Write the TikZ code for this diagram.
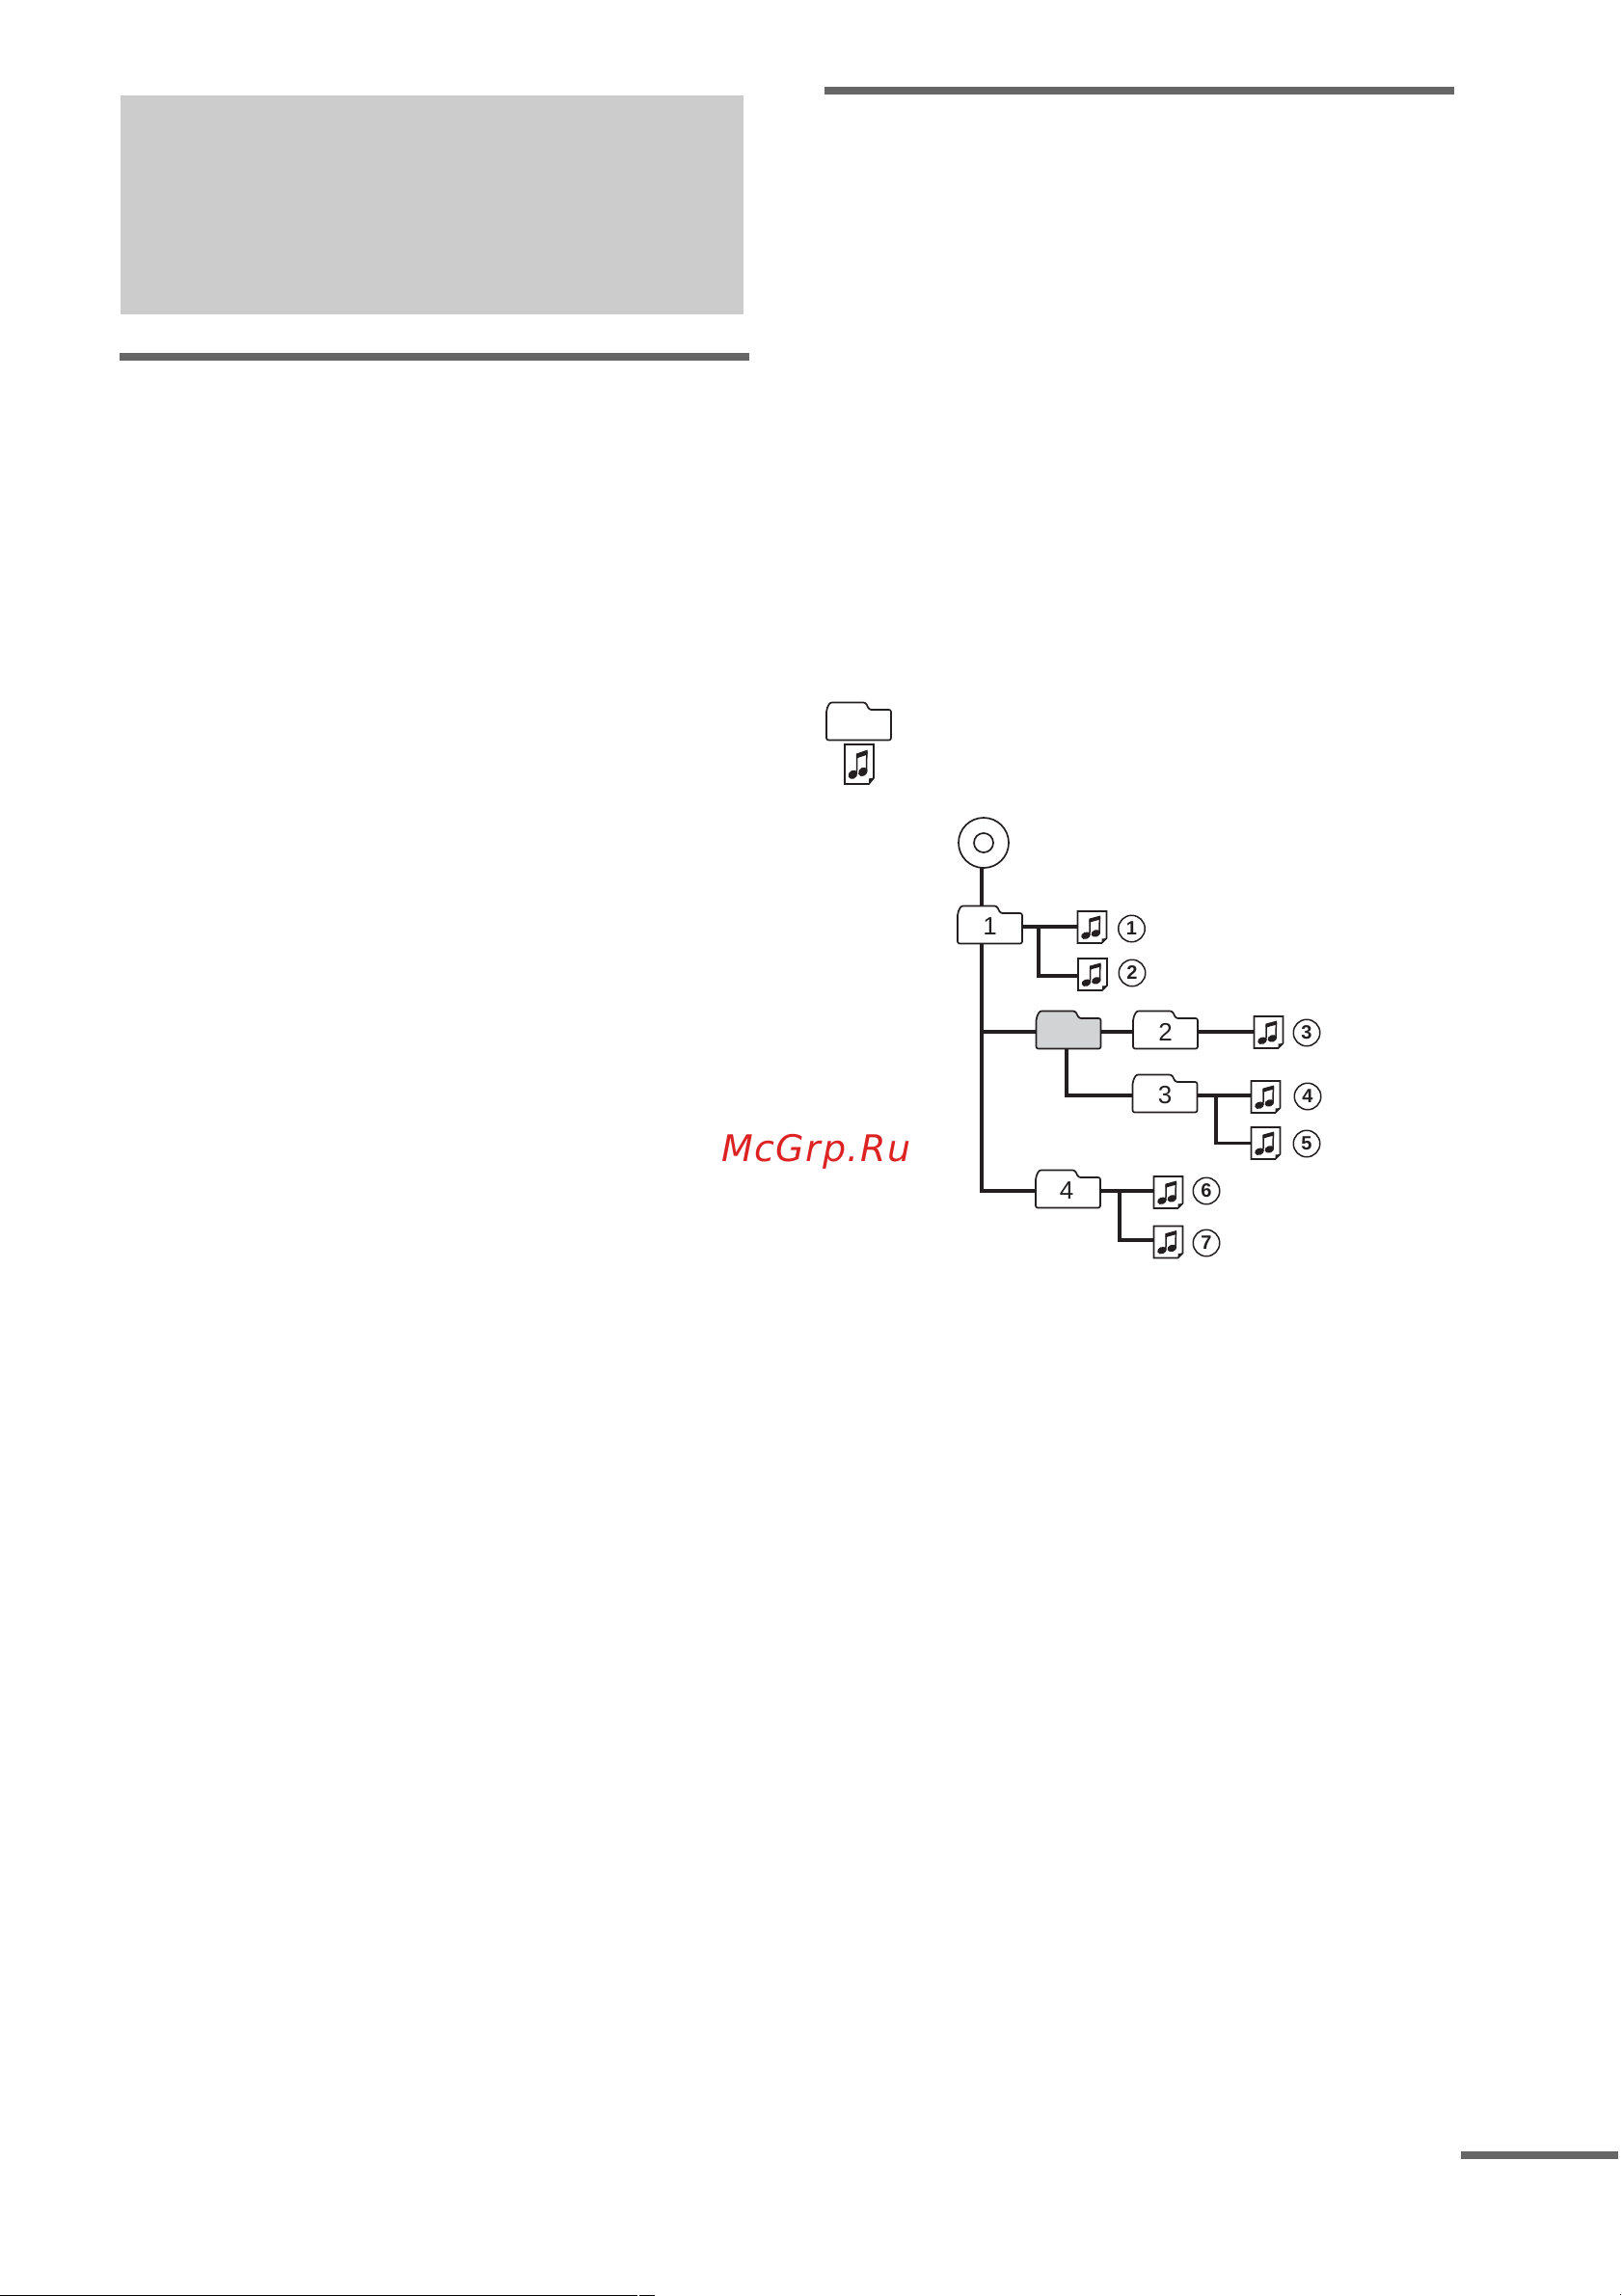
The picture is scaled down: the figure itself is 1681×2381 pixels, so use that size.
\documentclass[tikz,border=0pt]{standalone}
\usepackage{fontspec}
\setmainfont{Liberation Sans}
\newfontfamily\stampfont[LetterSpace=4]{DejaVu Sans}
\usetikzlibrary{backgrounds}
\definecolor{ink}{HTML}{231F20}
\definecolor{barfill}{HTML}{666666}
\definecolor{panelfill}{HTML}{CCCCCC}
\definecolor{foldergray}{HTML}{D1D3D4}
\definecolor{stampred}{HTML}{DD2222}
\tikzset{
    link/.style={ink,line width=3.2pt},
    folderline/.style={ink,line width=1.7pt,rounded corners=2.2pt},
    folderlabel/.style={inner sep=0pt,minimum width=67pt,minimum height=32pt,text=ink,font=\fontsize{26}{26}\selectfont},
    fileline/.style={ink,line width=1.7pt,fill=white},
    filebox/.style={inner sep=0pt,minimum width=30pt,minimum height=33pt},
    tracklabel/.style={circle,draw=ink,line width=1.5pt,inner sep=0pt,minimum size=27.5pt,text=ink,font=\fontsize{20}{20}\selectfont\bfseries},
}
% name, x, y, fill, label
\newcommand{\folderbox}[5]{
    \draw[folderline,fill=#4,shift={(#2,#3)}] (-33.5,17.5) -- (-33.5,-14) -- (-30,-21.5)
        -- (7,-21.5) -- (11,-14) -- (33.5,-14) -- (33.5,17.5) -- cycle;
    \node[folderlabel] (#1) at (#2,#3) {#5};
}
% name, x, y, stretch
\newcommand{\tunefile}[4]{
    \draw[fileline,shift={(#2,#3)},yscale=#4] (-15,-16.5) -- (15,-16.5) -- (15,11.5) -- (10,16.5) -- (-15,16.5) -- cycle;
    \fill[ink,shift={(#2,#3)},yscale=#4] (15,11.5) -- (10,16.5) -- (10,12) -- cycle;
    \draw[ink,line width=1.5pt,shift={(#2,#3)},yscale=#4] (-2.6,8.5) -- (-2.2,-7.5) (7.6,6.5) -- (7.8,-10.5);
    \fill[ink,shift={(#2,#3)},yscale=#4] (-3.2,-8.8) -- (8.5,-12) -- (8.5,-8) -- (-3.2,-4.8) -- cycle;
    \fill[ink,shift={(#2,#3)},yscale=#4] (-6.6,8.7) ellipse [x radius=4.9,y radius=3.6,rotate=20];
    \fill[ink,shift={(#2,#3)},yscale=#4] (3.8,6.4) ellipse [x radius=4.9,y radius=3.6,rotate=20];
    \node[filebox] (#1) at (#2,#3) {};
}

\begin{document}
\begin{tikzpicture}[x=1pt,y=-1pt]
    \useasboundingbox (0,0) rectangle (1681,2381);
    % Draw page bars
    \fill[panelfill] (125,99) rectangle (771,326);
    \fill[barfill] (124,366) rectangle (776.5,374);
    \fill[barfill] (855,90) rectangle (1507.5,98);
    \fill[barfill] (1515,2231) rectangle (1678,2239);
    \fill[black] (0,2380) rectangle (661,2381);
    \fill[black] (663,2380) rectangle (679,2381);
    \fill[black] (1679.5,2378.5) rectangle (1681,2380);
    % Legend symbols
    \folderbox{legfolder}{890.5}{750}{white}{}
    \tunefile{legfile}{891}{792.5}{1.24}
    % Disc
    \node[circle,draw=ink,fill=white,line width=1.7pt,minimum size=52pt,inner sep=0pt] (disc) at (1020,874) {};
    \node[circle,draw=ink,fill=white,line width=1.7pt,minimum size=20pt,inner sep=0pt] (hole) at (disc) {};
    % Folders
    \folderbox{f1}{1026.5}{961}{white}{1}
    \folderbox{f0}{1108}{1070}{foldergray}{}
    \folderbox{f2}{1208.5}{1070}{white}{2}
    \folderbox{f3}{1208}{1136}{white}{3}
    \folderbox{f4}{1107.5}{1235}{white}{\hspace*{-3pt}4}
    % Files
    \tunefile{t1}{1132.5}{961.5}{1}
    \tunefile{t2}{1133}{1010.5}{1}
    \tunefile{t3}{1315.5}{1070.5}{1}
    \tunefile{t4}{1312.5}{1137.5}{1}
    \tunefile{t5}{1312.5}{1185.5}{1}
    \tunefile{t6}{1211.5}{1236.5}{1}
    \tunefile{t7}{1211.5}{1288}{1}
    % Track numbers
    \node[tracklabel] (n1) at (1173.5,963) {1};
    \node[tracklabel] (n2) at (1174,1009) {2};
    \node[tracklabel] (n3) at (1355,1071) {3};
    \node[tracklabel] (n4) at (1356,1137) {4};
    \node[tracklabel] (n5) at (1355,1186) {5};
    \node[tracklabel] (n6) at (1251,1235) {6};
    \node[tracklabel] (n7) at (1251,1289) {7};
    % Branch points
    \coordinate (j1) at (1077,961);
    \coordinate (j3) at (1261,1136);
    \coordinate (j4) at (1161,1235);
    \coordinate (trunk) at (1018,900);
    % Connectors go behind the folders
    \begin{scope}[on background layer]
        \draw[link] (trunk) |- (f4);
        \draw[link] (trunk |- f0) -- (f0);
        \draw[link] (f1) -- (f1 -| t1.west);
        \draw[link] (j1) |- ([yshift=-1.5pt]t2.west);
        \draw[link] (f0) -- (f2);
        \draw[link] (f2) -- (f2 -| t3.west);
        \draw[link] ([xshift=-2pt]f0.south) |- (f3);
        \draw[link] (f3) -- (f3 -| t4.west);
        \draw[link] (j3) |- (t5.west);
        \draw[link] (f4) -- (f4 -| t6.west);
        \draw[link] (j4) |- ([yshift=2pt]t7.west);
    \end{scope}
    % Stamp
    \node[text=stampred,inner sep=0pt,anchor=base west,font=\stampfont\itshape\fontsize{38}{38}\selectfont] (stamp) at (748,1204) {McGrp.Ru};
\end{tikzpicture}
\end{document}
